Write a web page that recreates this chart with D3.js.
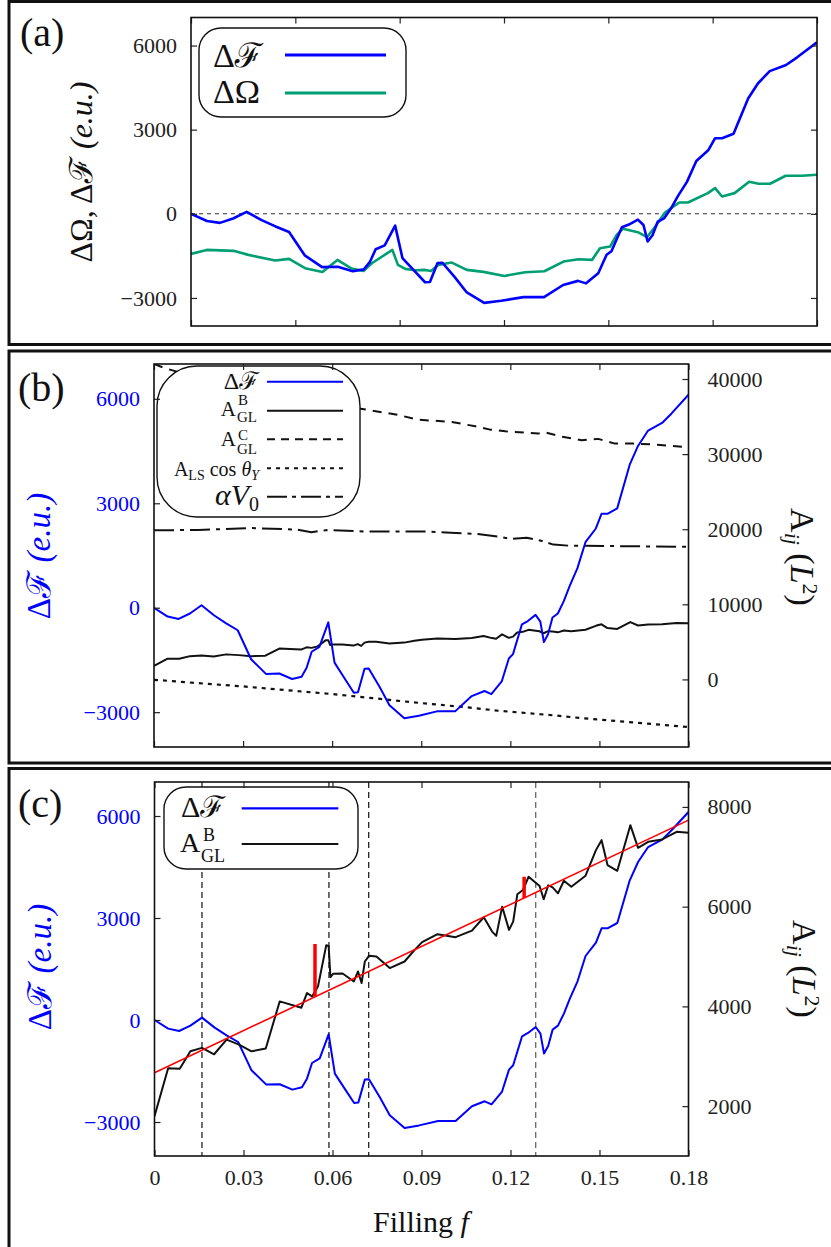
<!DOCTYPE html>
<html>
<head>
<meta charset="utf-8">
<script src="https://cdn.jsdelivr.net/npm/d3@7"></script>
<style>
  body { margin: 0; background: #fff; }
</style>
</head>
<body>
<svg id="fig" width="831" height="1247"></svg>
<script>
// ---- data ----
const fillingF = [0, 0.0046, 0.0083, 0.0121, 0.016, 0.0203, 0.0243, 0.0282, 0.0327, 0.0377, 0.0422, 0.0465,
  0.0497, 0.0514, 0.0531, 0.0557, 0.0587, 0.0608, 0.0641, 0.0673, 0.0687, 0.0709, 0.0723, 0.0759, 0.0793,
  0.0843, 0.0892, 0.0956, 0.1015, 0.107, 0.1113, 0.1136, 0.1171, 0.1195, 0.1209, 0.1239, 0.1259, 0.1285,
  0.1301, 0.1313, 0.1327, 0.1342, 0.136, 0.138, 0.14, 0.1426, 0.1453, 0.1488, 0.1507, 0.1527, 0.156, 0.1602,
  0.163, 0.1664, 0.1711, 0.1743, 0.18];
const deltaF = [0, -254, -323, -166, 70, -224, -450, -647, -1480, -1900, -1890, -2047,
  -1980, -1725, -1265, -1126, -420, -1577, -2018, -2440, -2430, -1753, -1744, -2265, -2803,
  -3176, -3100, -2970, -2970, -2538, -2391, -2480, -2117, -1459, -1332, -479, -382, -206,
  -400, -988, -764, -283, -165, 188, 629, 1138, 1882, 2276, 2697, 2697, 2853, 4109,
  4647, 5088, 5306, 5580, 6117];

const omegaF = [0, 0.0045, 0.0122, 0.0165, 0.0242, 0.0282, 0.0328, 0.0378, 0.0421, 0.0462, 0.0496, 0.052,
  0.0579, 0.0595, 0.0616, 0.0644, 0.0673, 0.069, 0.0711, 0.075, 0.0793, 0.0841, 0.0901, 0.0961, 0.1016,
  0.1071, 0.1114, 0.1153, 0.1176, 0.1205, 0.1224, 0.1242, 0.1285, 0.1311, 0.1335, 0.1363, 0.1404, 0.1429,
  0.1486, 0.1507, 0.1527, 0.1563, 0.1605, 0.1632, 0.1665, 0.171, 0.1757, 0.18];
const deltaOmega = [-1428, -1286, -1321, -1464, -1667, -1607, -1940, -2071, -1643, -1952, -2036, -1762,
  -1286, -1821, -1964, -2012, -2000, -2036, -1821, -1738, -2000, -2071, -2214, -2083, -2048,
  -1702, -1619, -1643, -1226, -1167, -750, -536, -655, -833, -452, 48, 405, 405,
  738, 917, 619, 738, 1143, 1071, 1071, 1357, 1357, 1393];

const aglBF = [0, 0.0046, 0.0085, 0.0121, 0.016, 0.0201, 0.0243, 0.0285, 0.0327, 0.0375, 0.0422, 0.0495,
  0.0514, 0.0531, 0.0551, 0.0579, 0.0587, 0.0593, 0.0602, 0.0634, 0.0672, 0.0686, 0.0698, 0.0709, 0.0723,
  0.0748, 0.0793, 0.0843, 0.0877, 0.0902, 0.0954, 0.1015, 0.107, 0.111, 0.1138, 0.1152, 0.1172, 0.1195,
  0.1209, 0.1223, 0.1242, 0.1261, 0.1298, 0.1312, 0.1327, 0.1342, 0.136, 0.138, 0.1405, 0.1453, 0.1488,
  0.1507, 0.1527, 0.156, 0.1604, 0.163, 0.1664, 0.1711, 0.176, 0.18];
const aglB = [1800, 2760, 2748, 3100, 3168, 3040, 3334, 3234, 3100, 3154, 4100, 3974,
  4268, 4200, 4400, 5228, 5214, 4588, 4654, 4660, 4500, 4700, 4468, 4900, 5014,
  5000, 4768, 4900, 5134, 5288, 5448, 5388, 5520, 5788, 5500, 5414, 6000, 5534,
  5700, 6248, 6334, 6600, 6414, 6148, 6428, 6388, 6268, 6520, 6400, 6620, 7134,
  7334, 6834, 6720, 7634, 7180, 7300, 7348, 7500, 7480];

const aglCF = [0, 0.004, 0.02, 0.04, 0.06, 0.0679, 0.0819, 0.0886, 0.1003, 0.1082, 0.1132, 0.1183,
  0.1294, 0.1317, 0.1367, 0.144, 0.1496, 0.1552, 0.1614, 0.1686, 0.18];
const aglC = [42000, 41400, 39600, 38000, 36700, 36150, 35250, 34600, 34280, 33700, 33260, 33040,
  32730, 32900, 32370, 31840, 32030, 31400, 31400, 31270, 30900];

const alsF = [0, 0.015, 0.03, 0.045, 0.06, 0.075, 0.0875, 0.105, 0.116, 0.135, 0.145, 0.165, 0.18];
const alsCos = [-50, -500, -930, -1450, -1950, -2550, -3060, -3700, -4170, -4800, -5190, -5850, -6350];

const v0F = [0, 0.015, 0.033, 0.048, 0.053, 0.058, 0.071, 0.091, 0.1, 0.109, 0.117, 0.12, 0.1255,
  0.13, 0.1345, 0.14, 0.156, 0.18];
const alphaV0 = [19850, 19900, 20150, 19950, 19600, 19880, 19700, 19700, 19530, 19350, 18950, 18700,
  18870, 18500, 17950, 17800, 17750, 17650];

const fitF = [0, 0.18];
const fitA = [2670, 7735];
const markF = [0.0541, 0.1246];
const markLow = [4192, 6176];
const markHigh = [5250, 6600];
const vlineF = [0.016, 0.0588, 0.0722, 0.1285];

const xTicks = [0, 0.03, 0.06, 0.09, 0.12, 0.15, 0.18];
const xTickLabels = ["0", "0.03", "0.06", "0.09", "0.12", "0.15", "0.18"];
const yTicks = [-3000, 0, 3000, 6000];
const y2TicksB = [0, 10000, 20000, 30000, 40000];
const y2TicksC = [2000, 4000, 6000, 8000];

const BLUE = "#0000ff", GREEN = "#009e73", RED = "#ff0000";
const SERIF = '"Liberation Serif", "DejaVu Serif", "Noto Serif", serif';

const svg = d3.select("#fig");

// outer boxes
[[9, 1.5, 840, 343], [9, 351, 840, 412], [9, 768.5, 840, 500]].forEach(b => {
  svg.append("rect").attr("x", b[0]).attr("y", b[1]).attr("width", b[2]).attr("height", b[3])
    .attr("fill", "none").attr("stroke", "#111").attr("stroke-width", 3);
});

let clipN = 0;
function panel(p) {
  const x = d3.scaleLinear().domain([0, 0.18]).range([p.left, p.right]);
  const y = d3.scaleLinear().domain([-4000, 7000]).range([p.bottom, p.top]);
  const y2 = p.y2Domain ? d3.scaleLinear().domain(p.y2Domain).range([p.bottom, p.top]) : null;
  const id = "clip" + (clipN++);
  svg.append("clipPath").attr("id", id).append("rect")
    .attr("x", p.left).attr("y", p.top).attr("width", p.right - p.left).attr("height", p.bottom - p.top);
  const data = svg.append("g").attr("clip-path", `url(#${id})`);
  return { x, y, y2, data, p };
}

function axes(P, opt) {
  const { x, y, y2, p } = P;
  const g = svg.append("g").attr("class", "axes");
  const style = sel => {
    sel.select(".domain").remove();
    sel.selectAll(".tick line").attr("stroke", "#222").attr("stroke-width", 1.2);
    sel.selectAll("text").attr("font-size", 22).attr("fill", "#222");
  };
  g.append("g").attr("transform", `translate(0,${p.bottom})`)
    .call(d3.axisBottom(x).tickValues(xTicks).tickSizeInner(-6).tickSizeOuter(0).tickPadding(13)
      .tickFormat((d, i) => opt.xLabels ? xTickLabels[i] : ""))
    .call(style);
  g.append("g").attr("transform", `translate(0,${p.top})`)
    .call(d3.axisTop(x).tickValues(xTicks).tickSizeInner(-6).tickSizeOuter(0).tickFormat(""))
    .call(style);
  g.append("g").attr("transform", `translate(${p.left},0)`)
    .call(d3.axisLeft(y).tickValues(yTicks).tickSizeInner(-6).tickSizeOuter(0).tickPadding(14)
      .tickFormat(d3.format("d")))
    .call(style)
    .selectAll("text").attr("fill", opt.leftColor);
  const right = g.append("g").attr("transform", `translate(${p.right},0)`);
  if (y2) {
    right.call(d3.axisRight(y2).tickValues(opt.y2Ticks).tickSizeInner(-6).tickSizeOuter(0).tickPadding(19)
      .tickFormat(d3.format("d"))).call(style);
  } else {
    right.call(d3.axisRight(y).tickValues(yTicks).tickSizeInner(-6).tickSizeOuter(0).tickFormat("")).call(style);
  }
  g.append("rect").attr("x", p.left).attr("y", p.top)
    .attr("width", p.right - p.left).attr("height", p.bottom - p.top)
    .attr("fill", "none").attr("stroke", "#111").attr("stroke-width", 1.6);
}

function line(P, xs, ys, scale, style) {
  const pts = d3.zip(xs, ys);
  P.data.append("path").datum(pts)
    .attr("d", d3.line().x(d => P.x(d[0])).y(d => scale(d[1])))
    .attr("fill", "none")
    .attr("stroke", style.color)
    .attr("stroke-width", style.width)
    .attr("stroke-dasharray", style.dash || null)
    .attr("stroke-linejoin", "round");
}

function legendBox(x, y, w, h, r) {
  svg.append("rect").attr("x", x).attr("y", y).attr("width", w).attr("height", h)
    .attr("rx", r).attr("ry", r).attr("fill", "#fff").attr("stroke", "#111").attr("stroke-width", 1.4);
}
function legendLine(x1, x2, y, color, width, dash) {
  svg.append("line").attr("x1", x1).attr("x2", x2).attr("y1", y).attr("y2", y)
    .attr("stroke", color).attr("stroke-width", width).attr("stroke-dasharray", dash || null);
}
function txt(x, y, size, s, anchor) {
  return svg.append("text").attr("x", x).attr("y", y).attr("font-size", size)
    .attr("text-anchor", anchor || "start").attr("fill", "#111").text(s);
}
function yLabel(x, y, rot, color, size, parts) {
  const t = svg.append("text").attr("transform", `translate(${x},${y}) rotate(${rot})`)
    .attr("text-anchor", "middle").attr("font-size", size).attr("fill", color);
  parts.forEach(pt => {
    const s = t.append("tspan").text(pt.t);
    if (pt.i) s.attr("font-style", "italic");
    if (pt.fs) s.attr("font-size", pt.fs);
    if (pt.dy) s.attr("dy", pt.dy);
  });
  return t;
}
const aijParts = [{ t: "A" }, { t: "ij", i: true, fs: 22, dy: 6 }, { t: " (", dy: -6 }, { t: "L", i: true },
  { t: "2", fs: 22, dy: -12 }, { t: ")", dy: 12 }];

// ---------- panel (a) ----------
const A = panel({ left: 191, right: 817, top: 17.5, bottom: 326 });
A.data.append("line").attr("x1", A.x(0)).attr("x2", A.x(0.18)).attr("y1", A.y(0)).attr("y2", A.y(0))
  .attr("stroke", "#333").attr("stroke-width", 1.1).attr("stroke-dasharray", "4,4");
line(A, omegaF, deltaOmega, A.y, { color: GREEN, width: 2.6 });
line(A, fillingF, deltaF, A.y, { color: BLUE, width: 2.6 });
axes(A, { xLabels: false, leftColor: "#222" });
legendBox(199, 28, 207, 89, 22);
txt(213, 67, 34, "Δℱ");
txt(213, 103, 34, "ΔΩ");
legendLine(285, 386, 55, BLUE, 3);
legendLine(285, 386, 93, GREEN, 3);
txt(20, 46, 40, "(a)");
yLabel(92, 172, -90, "#111", 32, [{ t: "ΔΩ, Δℱ " }, { t: "(e.u.)", i: true }]);

// ---------- panel (b) ----------
const B = panel({ left: 154, right: 688.5, top: 364, bottom: 747, y2Domain: [-9000, 42000] });
line(B, aglCF, aglC, B.y2, { color: "#111", width: 2, dash: "9,7" });
line(B, v0F, alphaV0, B.y2, { color: "#111", width: 2, dash: "20,6,4,6" });
line(B, alsF, alsCos, B.y2, { color: "#111", width: 2.2, dash: "4,5" });
line(B, aglBF, aglB, B.y2, { color: "#111", width: 2 });
line(B, fillingF, deltaF, B.y, { color: BLUE, width: 2 });
legendBox(157, 366, 203, 151, 40);
txt(259, 389, 24, "Δℱ", "end");
legendLine(267, 343, 381.7, BLUE, 2);
txt(236, 416, 21, "A", "end");
txt(237, 422, 15, "GL");
txt(238, 405, 15, "B");
legendLine(267, 343, 410.7, "#111", 2);
txt(236, 446, 21, "A", "end");
txt(237, 454, 15, "GL");
txt(238, 439.5, 15, "C");
legendLine(267, 343, 439.3, "#111", 2, "8,6");
{
  const t = txt(259, 476, 20, "", "end");
  t.append("tspan").text("A");
  t.append("tspan").attr("font-size", 14).attr("dy", 4).text("LS");
  t.append("tspan").attr("dy", -4).text(" cos ");
  t.append("tspan").attr("font-style", "italic").text("θ");
  t.append("tspan").attr("font-style", "italic").attr("font-size", 14).attr("dy", 4).text("Y");
}
legendLine(267, 343, 468.3, "#111", 2, "4,5");
{
  const t = txt(259, 505, 30, "", "end");
  t.append("tspan").attr("font-style", "italic").text("αV");
  t.append("tspan").attr("font-size", 20).attr("dy", 6).text("0");
}
legendLine(267, 343, 496.7, "#111", 2, "20,5,4,5");
axes(B, { xLabels: false, leftColor: BLUE, y2Ticks: y2TicksB });
txt(18, 401, 40, "(b)");
yLabel(50, 556, -90, BLUE, 33, [{ t: "Δℱ " }, { t: "(e.u.)", i: true }]);
yLabel(791, 557, 90, "#111", 34, aijParts);

// ---------- panel (c) ----------
const C = panel({ left: 154.5, right: 688.5, top: 782, bottom: 1156, y2Domain: [1000, 8500] });
vlineF.forEach((f, i) => {
  C.data.append("line").attr("x1", C.x(f)).attr("x2", C.x(f)).attr("y1", C.p.top).attr("y2", C.p.bottom)
    .attr("stroke", i === 3 ? "#666" : "#222").attr("stroke-width", 1.3).attr("stroke-dasharray", "6,4");
});
line(C, fillingF, deltaF, C.y, { color: BLUE, width: 2 });
line(C, aglBF, aglB, C.y2, { color: "#111", width: 2 });
line(C, fitF, fitA, C.y2, { color: RED, width: 1.6 });
d3.zip(markF, markLow, markHigh).forEach(m => {
  C.data.append("line").attr("x1", C.x(m[0])).attr("x2", C.x(m[0]))
    .attr("y1", C.y2(m[1])).attr("y2", C.y2(m[2])).attr("stroke", RED).attr("stroke-width", 3.5);
});
legendBox(164, 787, 194, 82, 22);
txt(181, 817, 30, "Δℱ");
legendLine(241.7, 338.3, 808.3, BLUE, 2.2);
txt(180, 852, 28, "A");
txt(201, 862, 18, "GL");
txt(203, 841, 18, "B");
legendLine(241.7, 338.3, 844, "#111", 2.2);
axes(C, { xLabels: true, leftColor: BLUE, y2Ticks: y2TicksC });
txt(18, 817, 40, "(c)");
yLabel(51, 967, -90, BLUE, 33, [{ t: "Δℱ " }, { t: "(e.u.)", i: true }]);
yLabel(793, 969, 90, "#111", 34, aijParts);
{
  const t = txt(421, 1232, 30, "Filling ", "middle");
  t.append("tspan").attr("font-style", "italic").text("f");
}

// serif face for every label, tick labels included
svg.selectAll("text").style("font-family", SERIF);
</script>
</body>
</html>
